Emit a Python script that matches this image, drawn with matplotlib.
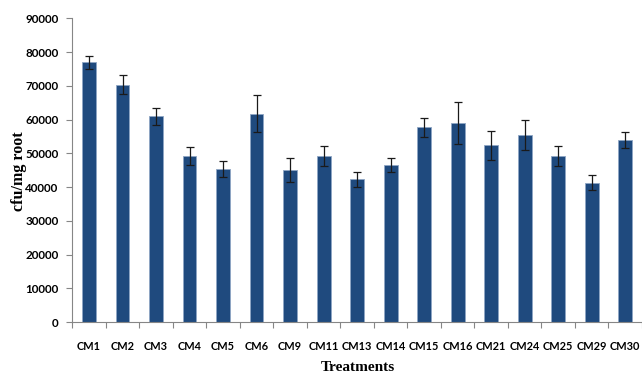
import matplotlib
matplotlib.use("Agg")
import matplotlib.pyplot as plt
import numpy as np

treatments = ["CM1", "CM2", "CM3", "CM4", "CM5", "CM6", "CM9", "CM11", "CM13",
              "CM14", "CM15", "CM16", "CM21", "CM24", "CM25", "CM29", "CM30"]
cfu = [76950, 70300, 60950, 49100, 45350, 61750, 44950, 49300, 42300,
       46450, 57700, 58900, 52350, 55400, 49100, 41300, 53900]
err = [1900, 2850, 2600, 2650, 2450, 5450, 3550, 3000, 2150,
       2100, 2850, 6300, 4250, 4350, 2950, 2300, 2300]
y_ticks = [0, 10000, 20000, 30000, 40000, 50000, 60000, 70000, 80000, 90000]

fig = plt.figure(figsize=(6.42, 3.73), dpi=100)
ax = fig.add_axes([0.1126, 0.1367, 0.8874, 0.8143])

x = np.arange(len(treatments))
ax.bar(x, cfu, width=0.41, color="#1f4a7e", edgecolor="#8fa6c4", linewidth=0.6,
       yerr=err, capsize=2.8,
       error_kw=dict(ecolor="#1a1a1a", elinewidth=0.9, capthick=0.9))

ax.set_xlim(-0.5, 16.06)
ax.set_ylim(0, 90000)
ax.set_yticks(y_ticks)
ax.set_yticklabels([str(v) for v in y_ticks], fontfamily="Lato",
                   fontweight="bold", fontsize=8.4)
ax.set_xticks(x)
ax.set_xticklabels(treatments, fontfamily="Lato", fontweight="bold", fontsize=7.9)
ax.set_xticks(np.arange(-0.5, len(treatments), 1.0), minor=True)
ax.tick_params(axis="x", which="major", length=0, pad=14)
ax.tick_params(axis="x", which="minor", length=4, color="#868686", width=0.8)
ax.tick_params(axis="y", length=4, color="#868686", width=0.8, pad=6)

for side in ("top", "right"):
    ax.spines[side].set_visible(False)
for side in ("left", "bottom"):
    ax.spines[side].set_color("#868686")
    ax.spines[side].set_linewidth(0.8)

fig.text(0.029, 0.54, "cfu/mg root", fontfamily="Liberation Serif",
         fontweight="bold", fontsize=11.5, rotation=90, ha="center", va="center")
fig.text(0.558, 0.006, "Treatments", fontfamily="Liberation Serif",
         fontweight="bold", fontsize=11, ha="center", va="baseline")

fig.savefig("out.png", dpi=100)
